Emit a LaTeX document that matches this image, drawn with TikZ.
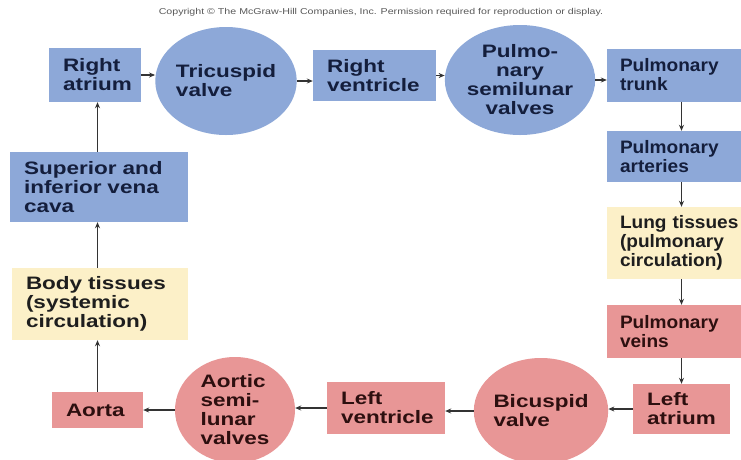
\documentclass[tikz,border=0pt]{standalone}
\usepackage{fontspec}
\setmainfont[FakeStretch=1.25]{Liberation Sans}
\newfontfamily\narrowfont[FakeStretch=1.06]{Liberation Sans}
\usetikzlibrary{shapes.geometric,arrows.meta}
\definecolor{bluebox}{HTML}{8DA8D8}
\definecolor{pinkbox}{HTML}{E89696}
\definecolor{yellowbox}{HTML}{FCF0C8}
\definecolor{bluetext}{HTML}{141E3C}
\definecolor{pinktext}{HTML}{2D0F0F}
\definecolor{yellowtext}{HTML}{1E1E1E}
\definecolor{arrowcol}{HTML}{333333}
\tikzset{
  lbl/.style={font=\bfseries\fontsize{18}{19}\selectfont},
  rcol/.style={font=\narrowfont\bfseries\fontsize{18}{19}\selectfont, inner xsep=13pt},
  blubox/.style={lbl, rectangle, fill=bluebox, text=bluetext, inner xsep=14pt, inner ysep=0pt, align=left},
  pnkbox/.style={lbl, rectangle, fill=pinkbox, text=pinktext, inner xsep=14pt, inner ysep=0pt, align=left},
  ylwbox/.style={lbl, rectangle, fill=yellowbox, text=yellowtext, inner xsep=14pt, inner ysep=0pt, align=left},
  bluell/.style={lbl, ellipse, fill=bluebox, text=bluetext, inner sep=0pt},
  pnkell/.style={lbl, ellipse, fill=pinkbox, text=pinktext, inner sep=0pt},
  arr/.style={draw=arrowcol, line width=1.2pt, -{Stealth[length=6pt,width=5pt]}}
}
\begin{document}
\begin{tikzpicture}[x=1pt,y=-1pt]
\useasboundingbox (0,0) rectangle (741,459);
\clip (0,0) rectangle (741,459);
\fill[white] (0,0) rectangle (741,459);
\node[text=black!65, font=\fontsize{8.5}{9}\selectfont] (copy) at (381,12) {Copyright \textcopyright\ The McGraw-Hill Companies, Inc. Permission required for reproduction or display.};
% top row
\node[blubox, minimum width=92pt, minimum height=54pt, text width=64pt] (ra) at (95,75) {Right\\atrium};
\node[bluell, minimum width=114pt, minimum height=108pt, align=left] (tric) at (226,81) {Tricuspid\\valve};
\node[blubox, minimum width=123pt, minimum height=51pt, text width=95pt] (rv) at (374.5,75.5) {Right\\ventricle};
\node[bluell, minimum width=120pt, minimum height=110pt, align=center] (psv) at (520,80) {Pulmo-\\nary\\semilunar\\valves};
\node[blubox, rcol, minimum width=180pt, minimum height=53pt, text width=154pt] (pt) at (697,75) {Pulmonary\\trunk};
% right column
\node[blubox, rcol, minimum width=180pt, minimum height=51pt, text width=154pt] (pa) at (697,156.5) {Pulmonary\\arteries};
\node[ylwbox, rcol, minimum width=180pt, minimum height=72pt, text width=154pt] (lung) at (697,243) {Lung tissues\\(pulmonary\\circulation)};
\node[pnkbox, rcol, minimum width=180pt, minimum height=53pt, text width=154pt] (pv) at (697,331.5) {Pulmonary\\veins};
\node[pnkbox, minimum width=97pt, minimum height=50pt, text width=69pt] (la) at (681.5,409) {Left\\atrium};
% bottom row
\node[pnkell, minimum width=116pt, minimum height=106pt, align=left] (bic) at (541,411) {Bicuspid\\valve};
\node[pnkbox, minimum width=118pt, minimum height=52pt, text width=90pt] (lv) at (386,408) {Left\\ventricle};
\node[pnkell, minimum width=120pt, minimum height=106pt, align=left] (asv) at (235,410) {Aortic\\semi-\\lunar\\valves};
\node[pnkbox, minimum width=91pt, minimum height=36pt, text width=63pt] (aorta) at (97.5,410) {Aorta};
% left column
\node[ylwbox, minimum width=176pt, minimum height=72pt, text width=148pt] (body) at (100,304) {Body tissues\\(systemic\\circulation)};
\node[blubox, minimum width=178pt, minimum height=70pt, text width=150pt] (vc) at (99,187) {Superior and\\inferior vena\\cava};
% connectors
\draw[arr] (ra.east) -- (ra.east -| tric.west);
\draw[arr] (tric.east) -- (tric.east -| rv.west);
\draw[arr] (rv.east) -- (rv.east -| psv.west);
\draw[arr] (psv.east) -- (psv.east -| pt.west);
\draw[arr] (pt.south -| la.north) -- (pa.north -| la.north);
\draw[arr] (pa.south -| la.north) -- (lung.north -| la.north);
\draw[arr] (lung.south -| la.north) -- (pv.north -| la.north);
\draw[arr] (pv.south -| la.north) -- (la.north);
\draw[arr] (la.west) -- (la.west -| bic.east);
\draw[arr] (bic.west) -- (bic.west -| lv.east);
\draw[arr] (lv.west) -- (lv.west -| asv.east);
\draw[arr] (asv.west) -- (asv.west -| aorta.east);
\draw[arr] (aorta.north) -- (aorta.north |- body.south);
\draw[arr] (aorta.north |- body.north) -- (aorta.north |- vc.south);
\draw[arr] (aorta.north |- vc.north) -- (aorta.north |- ra.south);
\end{tikzpicture}
\end{document}
